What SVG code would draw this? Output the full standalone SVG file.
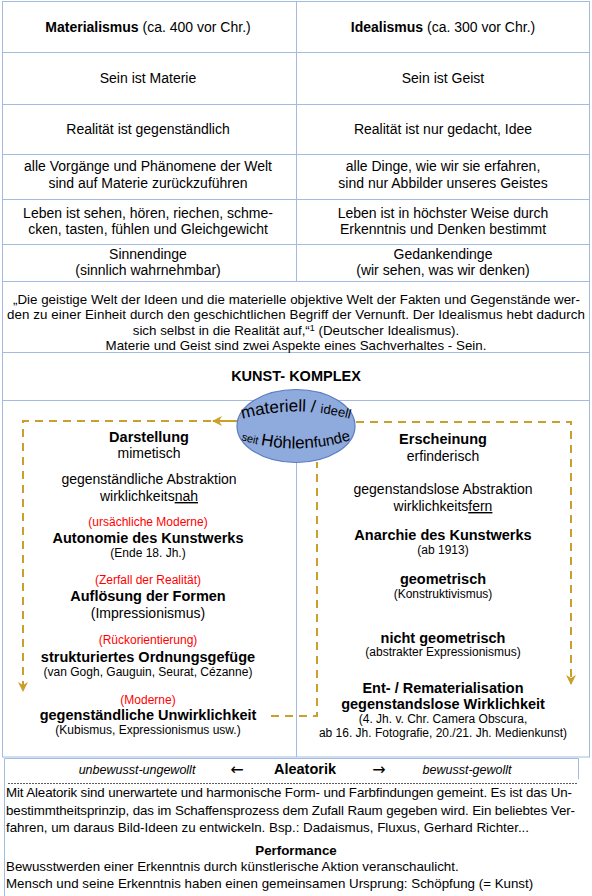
<svg xmlns="http://www.w3.org/2000/svg" width="592" height="896" viewBox="0 0 592 896">
<defs>
<style>
text{font-family:"Liberation Sans",Arial,sans-serif;fill:#000}
.t{font-size:14px;text-anchor:middle}
.b{font-weight:bold}
.h{font-size:14.5px;font-weight:bold;text-anchor:middle}
.s{font-size:12px;text-anchor:middle}
.r{font-size:12px;text-anchor:middle;fill:#ff0000}
.p{font-size:13.33px}
.i{font-size:12.5px;font-style:italic;text-anchor:middle}
.ar{font-size:16px;text-anchor:middle;font-family:"DejaVu Sans",sans-serif}
.grid{stroke:#a3bbe1;stroke-width:1;fill:none}
.dash{stroke:#c9a02c;stroke-width:2;stroke-dasharray:8 6;fill:none}
.solid{stroke:#c9a02c;stroke-width:2;fill:none}
</style>
<marker id="ah" viewBox="0 0 10 10" refX="9" refY="5" markerWidth="5" markerHeight="5" orient="auto" markerUnits="strokeWidth">
<path d="M0,0 L10,5 L0,10 L3,5 z" fill="#c9a02c"/>
</marker>
<path id="arcTop" d="M238,420 Q296,403 354,420"/>
<path id="arcBot" d="M235,438 Q296,459 357,438"/>
</defs>
<rect width="592" height="896" fill="#fff"/>

<g id="table">
<rect x="2.5" y="1.5" width="587" height="755.5" class="grid"/>
<path class="grid" d="M2.5,52.5H589.5M2.5,104.5H589.5M2.5,154.5H589.5M2.5,199.5H589.5M2.5,244.5H589.5M2.5,281.5H589.5M2.5,352.5H589.5M2.5,400.5H589.5M296.5,1.5V281.5M296.5,400.5V757"/>
<path class="grid" d="M4.5,896V758.5H578.5V779"/>
</g>

<g id="row-header">
<text class="t" x="148" y="32"><tspan class="b">Materialismus</tspan> (ca. 400 vor Chr.)</text>
<text class="t" x="443" y="32"><tspan class="b">Idealismus</tspan> (ca. 300 vor Chr.)</text>
</g>
<g id="row-sein">
<text class="t" x="148" y="83">Sein ist Materie</text>
<text class="t" x="443" y="83">Sein ist Geist</text>
</g>
<g id="row-realitaet">
<text class="t" x="148" y="134">Realität ist gegenständlich</text>
<text class="t" x="443" y="134">Realität ist nur gedacht, Idee</text>
</g>
<g id="row-vorgaenge">
<text class="t" x="148" y="171">alle Vorgänge und Phänomene der Welt</text>
<text class="t" x="148" y="188">sind auf Materie zurückzuführen</text>
<text class="t" x="443" y="171">alle Dinge, wie wir sie erfahren,</text>
<text class="t" x="443" y="188">sind nur Abbilder unseres Geistes</text>
</g>
<g id="row-leben">
<text class="t" x="148" y="218">Leben ist sehen, hören, riechen, schme-</text>
<text class="t" x="148" y="234">cken, tasten, fühlen und Gleichgewicht</text>
<text class="t" x="443" y="218">Leben ist in höchster Weise durch</text>
<text class="t" x="443" y="234">Erkenntnis und Denken bestimmt</text>
</g>
<g id="row-dinge">
<text class="t" x="148" y="259">Sinnendinge</text>
<text class="t" x="148" y="275">(sinnlich wahrnehmbar)</text>
<text class="t" x="443" y="259">Gedankendinge</text>
<text class="t" x="443" y="275">(wir sehen, was wir denken)</text>
</g>
<g id="quote">
<text class="p" x="13" y="304" textLength="567" lengthAdjust="spacing">„Die geistige Welt der Ideen und die materielle objektive Welt der Fakten und Gegenstände wer-</text>
<text class="p" x="7" y="319" textLength="578" lengthAdjust="spacing">den zu einer Einheit durch den geschichtlichen Begriff der Vernunft. Der Idealismus hebt dadurch</text>
<text class="p" x="296" y="335" text-anchor="middle">sich selbst in die Realität auf,“<tspan font-size="9" dy="-4">1</tspan><tspan dy="4"> (Deutscher Idealismus).</tspan></text>
<text class="p" x="296" y="350" text-anchor="middle">Materie und Geist sind zwei Aspekte eines Sachverhaltes - Sein.</text>
</g>
<g id="kunst-komplex">
<text class="h" x="296" y="381">KUNST- KOMPLEX</text>
</g>

<g id="connectors">
<path class="solid" d="M237,421H213" marker-end="url(#ah)"/>
<path class="dash" d="M211,421H23V691" marker-end="url(#ah)"/>
<path class="dash" d="M356,422H571V684" marker-end="url(#ah)"/>
<path class="dash" d="M271,716H317V462"/>
</g>

<g id="ellipse-node">
<ellipse cx="296" cy="426" rx="59" ry="36.5" fill="#8faadc" stroke="#5a7cc4" stroke-width="1.2"/>
<text><textPath href="#arcTop" startOffset="50%" text-anchor="middle"><tspan font-size="17">materiell / </tspan><tspan font-size="13">ideell</tspan></textPath></text>
<text><textPath href="#arcBot" startOffset="50%" text-anchor="middle"><tspan font-size="11">seit </tspan><tspan font-size="17">Höhlen</tspan><tspan font-size="15">funde</tspan></textPath></text>
</g>

<g id="darstellung">
<text class="h" x="149" y="442">Darstellung</text>
<text class="t" x="149" y="458">mimetisch</text>
<text class="t" x="149" y="484">gegenständliche Abstraktion</text>
<text class="t" x="149" y="501">wirklichkeits<tspan text-decoration="underline">nah</tspan></text>
</g>
<g id="autonomie">
<text class="r" x="148" y="526">(ursächliche Moderne)</text>
<text class="h" x="148" y="543">Autonomie des Kunstwerks</text>
<text class="s" x="148" y="557">(Ende 18. Jh.)</text>
</g>
<g id="aufloesung">
<text class="r" x="148" y="584">(Zerfall der Realität)</text>
<text class="h" x="148" y="601">Auflösung der Formen</text>
<text class="t" x="148" y="618">(Impressionismus)</text>
</g>
<g id="ordnungsgefuege">
<text class="r" x="148" y="644">(Rückorientierung)</text>
<text class="h" x="148" y="662">strukturiertes Ordnungsgefüge</text>
<text class="s" x="148" y="676">(van Gogh, Gauguin, Seurat, Cézanne)</text>
</g>
<g id="unwirklichkeit">
<text class="r" x="148" y="704">(Moderne)</text>
<text class="h" x="148" y="720">gegenständliche Unwirklichkeit</text>
<text class="s" x="148" y="734">(Kubismus, Expressionismus usw.)</text>
</g>

<g id="erscheinung">
<text class="h" x="443" y="444">Erscheinung</text>
<text class="t" x="443" y="461">erfinderisch</text>
<text class="t" x="443" y="494">gegenstandslose Abstraktion</text>
<text class="t" x="443" y="511">wirklichkeits<tspan text-decoration="underline">fern</tspan></text>
</g>
<g id="anarchie">
<text class="h" x="443" y="540">Anarchie des Kunstwerks</text>
<text class="s" x="443" y="554">(ab 1913)</text>
</g>
<g id="geometrisch">
<text class="h" x="443" y="584">geometrisch</text>
<text class="s" x="443" y="598">(Konstruktivismus)</text>
</g>
<g id="nicht-geometrisch">
<text class="h" x="443" y="643">nicht geometrisch</text>
<text class="s" x="443" y="656">(abstrakter Expressionismus)</text>
</g>
<g id="rematerialisation">
<text class="h" x="443" y="693">Ent- / Rematerialisation</text>
<text class="h" x="443" y="709">gegenstandslose Wirklichkeit</text>
<text class="s" x="443" y="723">(4. Jh. v. Chr. Camera Obscura,</text>
<text class="s" x="443" y="737">ab 16. Jh. Fotografie, 20./21. Jh. Medienkunst)</text>
</g>

<g id="aleatorik">
<text class="i" x="137" y="774">unbewusst-ungewollt</text>
<text class="ar" x="237" y="775">←</text>
<text class="h" x="305" y="774">Aleatorik</text>
<text class="ar" x="379" y="775">→</text>
<text class="i" x="467" y="774">bewusst-gewollt</text>
<path d="M8,783.5H577" stroke="#333" stroke-width="0.8" stroke-dasharray="2 1" fill="none"/>
<text class="p" x="6" y="797" textLength="566" lengthAdjust="spacing">Mit Aleatorik sind unerwartete und harmonische Form- und Farbfindungen gemeint. Es ist das Un-</text>
<text class="p" x="6" y="815" textLength="569" lengthAdjust="spacing">bestimmtheitsprinzip, das im Schaffensprozess dem Zufall Raum gegeben wird. Ein beliebtes Ver-</text>
<text class="p" x="6" y="832">fahren, um daraus Bild-Ideen zu entwickeln. Bsp.: Dadaismus, Fluxus, Gerhard Richter...</text>
</g>
<g id="performance">
<text class="p b" x="296" y="855" text-anchor="middle">Performance</text>
<text class="p" x="6" y="871">Bewusstwerden einer Erkenntnis durch künstlerische Aktion veranschaulicht.</text>
<text class="p" x="6" y="888">Mensch und seine Erkenntnis haben einen gemeinsamen Ursprung: Schöpfung (= Kunst)</text>
</g>
</svg>
